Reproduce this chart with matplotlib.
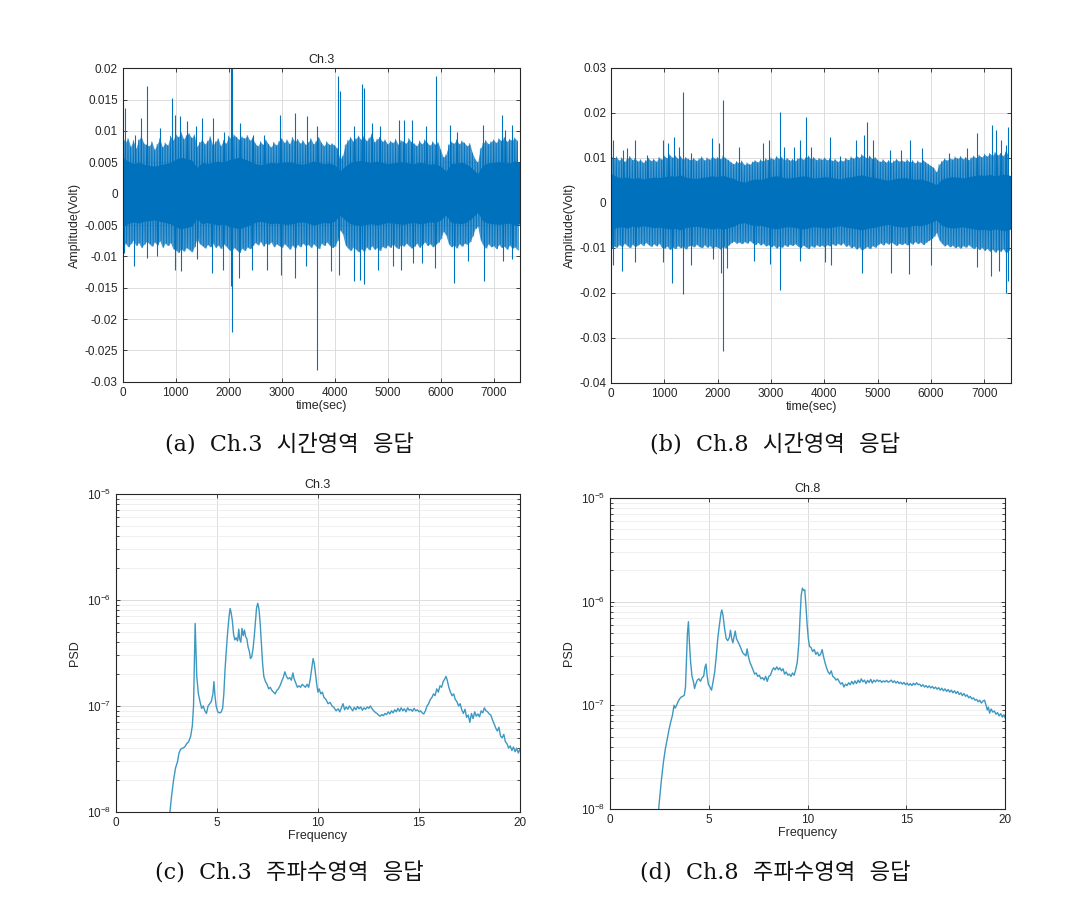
import numpy as np
import matplotlib
matplotlib.use("Agg")
import matplotlib.pyplot as plt
from matplotlib.ticker import FuncFormatter, LogLocator, NullFormatter

plt.rcParams['font.family'] = ['Liberation Sans', 'DejaVu Sans']
plt.rcParams['axes.unicode_minus'] = False

# ---------------- time-domain data ----------------
t_core = list(range(0, 7501, 100))
t_fringe = list(range(0, 7500, 50))

ch3_core_hi = [0.0058, 0.0052, 0.0048, 0.0050, 0.0047, 0.0045, 0.0044, 0.0046, 0.0048, 0.0050,
               0.0055, 0.0058, 0.0056, 0.0054, 0.0042, 0.0050, 0.0048, 0.0050, 0.0052, 0.0050,
               0.0054, 0.0056, 0.0058, 0.0055, 0.0052, 0.0048, 0.0046, 0.0048, 0.0050, 0.0049,
               0.0050, 0.0051, 0.0050, 0.0048, 0.0047, 0.0049, 0.0052, 0.0050, 0.0048, 0.0049,
               0.0046, 0.0036, 0.0044, 0.0050, 0.0052, 0.0053, 0.0051, 0.0050, 0.0052, 0.0050,
               0.0048, 0.0049, 0.0050, 0.0051, 0.0049, 0.0048, 0.0050, 0.0049, 0.0047, 0.0048,
               0.0044, 0.0036, 0.0048, 0.0049, 0.0050, 0.0047, 0.0040, 0.0032, 0.0046, 0.0049,
               0.0050, 0.0051, 0.0050, 0.0049, 0.0052, 0.0050]
ch3_core_lo = [-0.0052, -0.0048, -0.0045, -0.0047, -0.0044, -0.0043, -0.0042, -0.0044, -0.0046, -0.0048,
               -0.0053, -0.0056, -0.0054, -0.0052, -0.0040, -0.0048, -0.0046, -0.0048, -0.0050, -0.0048,
               -0.0052, -0.0054, -0.0056, -0.0053, -0.0050, -0.0046, -0.0044, -0.0046, -0.0048, -0.0047,
               -0.0048, -0.0049, -0.0048, -0.0046, -0.0045, -0.0047, -0.0050, -0.0048, -0.0046, -0.0047,
               -0.0044, -0.0034, -0.0042, -0.0048, -0.0050, -0.0051, -0.0049, -0.0048, -0.0050, -0.0048,
               -0.0046, -0.0047, -0.0048, -0.0049, -0.0047, -0.0046, -0.0048, -0.0047, -0.0045, -0.0046,
               -0.0042, -0.0034, -0.0046, -0.0047, -0.0048, -0.0045, -0.0038, -0.0030, -0.0044, -0.0047,
               -0.0048, -0.0049, -0.0048, -0.0047, -0.0050, -0.0048]
ch3_fringe_hi = [0.0090, 0.0082, 0.0088, 0.0075, 0.0085, 0.0072, 0.0086, 0.0091, 0.0080, 0.0078,
                 0.0076, 0.0083, 0.0070, 0.0079, 0.0088, 0.0074, 0.0081, 0.0077, 0.0092, 0.0085,
                 0.0095, 0.0090, 0.0098, 0.0087, 0.0093, 0.0096, 0.0089, 0.0094, 0.0075, 0.0082,
                 0.0086, 0.0079, 0.0084, 0.0091, 0.0077, 0.0083, 0.0088, 0.0076, 0.0085, 0.0080,
                 0.0092, 0.0087, 0.0094, 0.0090, 0.0086, 0.0091, 0.0088, 0.0093, 0.0085, 0.0089,
                 0.0080, 0.0076, 0.0083, 0.0078, 0.0086, 0.0079, 0.0074, 0.0082, 0.0077, 0.0084,
                 0.0088, 0.0081, 0.0086, 0.0079, 0.0090, 0.0083, 0.0087, 0.0080, 0.0085, 0.0078,
                 0.0082, 0.0088, 0.0079, 0.0084, 0.0090, 0.0081, 0.0076, 0.0083, 0.0078, 0.0080,
                 0.0077, 0.0072, 0.0055, 0.0060, 0.0078, 0.0085, 0.0090, 0.0083, 0.0088, 0.0092,
                 0.0086, 0.0091, 0.0084, 0.0089, 0.0095, 0.0082, 0.0087, 0.0090, 0.0083, 0.0086,
                 0.0079, 0.0084, 0.0081, 0.0087, 0.0078, 0.0085, 0.0083, 0.0080, 0.0088, 0.0082,
                 0.0080, 0.0076, 0.0084, 0.0079, 0.0086, 0.0081, 0.0077, 0.0083, 0.0078, 0.0082,
                 0.0070, 0.0058, 0.0062, 0.0078, 0.0083, 0.0080, 0.0086, 0.0079, 0.0084, 0.0081,
                 0.0076, 0.0080, 0.0065, 0.0055, 0.0050, 0.0072, 0.0080, 0.0085, 0.0079, 0.0083,
                 0.0086, 0.0081, 0.0088, 0.0084, 0.0090, 0.0083, 0.0087, 0.0085, 0.0089, 0.0084]
ch3_fringe_lo = [-0.0088, -0.0079, -0.0085, -0.0080, -0.0074, -0.0083, -0.0078, -0.0086, -0.0081, -0.0076,
                 -0.0080, -0.0084, -0.0077, -0.0082, -0.0075, -0.0086, -0.0079, -0.0083, -0.0078, -0.0088,
                 -0.0090, -0.0094, -0.0088, -0.0092, -0.0086, -0.0089, -0.0093, -0.0085, -0.0072, -0.0080,
                 -0.0083, -0.0087, -0.0081, -0.0085, -0.0079, -0.0086, -0.0082, -0.0088, -0.0080, -0.0084,
                 -0.0089, -0.0092, -0.0086, -0.0090, -0.0094, -0.0087, -0.0091, -0.0085, -0.0088, -0.0083,
                 -0.0078, -0.0082, -0.0076, -0.0084, -0.0079, -0.0081, -0.0077, -0.0085, -0.0080, -0.0083,
                 -0.0086, -0.0080, -0.0084, -0.0089, -0.0082, -0.0087, -0.0081, -0.0085, -0.0079, -0.0083,
                 -0.0081, -0.0086, -0.0080, -0.0084, -0.0088, -0.0079, -0.0083, -0.0077, -0.0082, -0.0086,
                 -0.0084, -0.0075, -0.0058, -0.0064, -0.0082, -0.0087, -0.0091, -0.0085, -0.0089, -0.0093,
                 -0.0088, -0.0092, -0.0085, -0.0090, -0.0083, -0.0089, -0.0086, -0.0091, -0.0084, -0.0087,
                 -0.0082, -0.0086, -0.0080, -0.0085, -0.0088, -0.0081, -0.0084, -0.0079, -0.0083, -0.0087,
                 -0.0084, -0.0079, -0.0086, -0.0081, -0.0077, -0.0083, -0.0080, -0.0085, -0.0081, -0.0078,
                 -0.0072, -0.0060, -0.0066, -0.0080, -0.0085, -0.0082, -0.0087, -0.0080, -0.0084, -0.0079,
                 -0.0081, -0.0077, -0.0068, -0.0056, -0.0052, -0.0074, -0.0082, -0.0087, -0.0080, -0.0085,
                 -0.0083, -0.0088, -0.0081, -0.0086, -0.0084, -0.0089, -0.0082, -0.0087, -0.0085, -0.0090]
ch3_spike_t = [50, 233, 346, 465, 704, 925, 987, 1082, 1220, 1384, 1503, 1711, 1918, 2038, 2069,
               2214, 2465, 2667, 2969, 3252, 3484, 3660, 4069, 4101, 4365, 4509, 4553, 4698, 4855,
               5214, 5308, 5453, 5717, 5906, 6176, 6302, 6805, 7151, 7214, 7340,
               31, 214, 465, 654, 987, 1094, 1396, 1679, 1899, 2044, 2063, 2195, 2434, 2717, 2981,
               3252, 3459, 3667, 3925, 4088, 4365, 4478, 4553, 4824, 5094, 5245, 5484, 5654, 5893,
               6258, 6522, 6818, 7170, 7340]
ch3_spike_v = [0.0137, 0.0094, 0.0121, 0.0172, 0.0105, 0.0153, 0.0126, 0.0124, 0.0116, 0.0108,
               0.0121, 0.0121, 0.0099, 0.0210, 0.0205, 0.0113, 0.0094, 0.0094, 0.0126, 0.0129,
               0.0124, 0.0108, 0.0188, 0.0164, 0.0108, 0.0175, 0.0169, 0.0113, 0.0108, 0.0118,
               0.0118, 0.0118, 0.0108, 0.0188, 0.0110, 0.0099, 0.0110, 0.0126, 0.0102, 0.0110,
               -0.0094, -0.0116, -0.0102, -0.0099, -0.0121, -0.0124, -0.0105, -0.0126, -0.0121,
               -0.0148, -0.0220, -0.0134, -0.0121, -0.0121, -0.0129, -0.0134, -0.0116, -0.0281,
               -0.0124, -0.0129, -0.0140, -0.0137, -0.0144, -0.0121, -0.0116, -0.0121, -0.0110,
               -0.0110, -0.0118, -0.0142, -0.0108, -0.0140, -0.0108, -0.0105]

ch8_core_hi = [0.0065, 0.0058, 0.0055, 0.0057, 0.0054, 0.0056, 0.0053, 0.0055, 0.0057, 0.0056,
               0.0058, 0.0060, 0.0059, 0.0062, 0.0057, 0.0055, 0.0054, 0.0056, 0.0058, 0.0060,
               0.0058, 0.0061, 0.0057, 0.0054, 0.0048, 0.0046, 0.0050, 0.0053, 0.0052, 0.0055,
               0.0058, 0.0060, 0.0057, 0.0055, 0.0056, 0.0058, 0.0060, 0.0058, 0.0055, 0.0056,
               0.0058, 0.0057, 0.0055, 0.0053, 0.0056, 0.0058, 0.0060, 0.0062, 0.0059, 0.0057,
               0.0055, 0.0052, 0.0050, 0.0053, 0.0055, 0.0056, 0.0054, 0.0052, 0.0053, 0.0050,
               0.0046, 0.0040, 0.0052, 0.0056, 0.0058, 0.0057, 0.0055, 0.0058, 0.0060, 0.0062,
               0.0061, 0.0063, 0.0060, 0.0062, 0.0064, 0.0060]
ch8_core_lo = [-0.0060, -0.0055, -0.0053, -0.0056, -0.0052, -0.0054, -0.0051, -0.0053, -0.0055, -0.0054,
               -0.0056, -0.0058, -0.0057, -0.0060, -0.0055, -0.0053, -0.0052, -0.0054, -0.0056, -0.0058,
               -0.0056, -0.0059, -0.0055, -0.0052, -0.0046, -0.0044, -0.0048, -0.0051, -0.0050, -0.0053,
               -0.0056, -0.0058, -0.0055, -0.0053, -0.0054, -0.0056, -0.0058, -0.0056, -0.0053, -0.0054,
               -0.0056, -0.0055, -0.0053, -0.0051, -0.0054, -0.0056, -0.0058, -0.0060, -0.0057, -0.0055,
               -0.0053, -0.0050, -0.0048, -0.0051, -0.0053, -0.0054, -0.0052, -0.0050, -0.0051, -0.0048,
               -0.0044, -0.0038, -0.0050, -0.0054, -0.0056, -0.0055, -0.0053, -0.0056, -0.0058, -0.0060,
               -0.0059, -0.0061, -0.0058, -0.0060, -0.0062, -0.0058]
ch8_fringe_hi = [0.0105, 0.0098, 0.0102, 0.0094, 0.0100, 0.0091, 0.0097, 0.0103, 0.0095, 0.0099,
                 0.0092, 0.0096, 0.0089, 0.0094, 0.0099, 0.0093, 0.0097, 0.0091, 0.0101, 0.0096,
                 0.0104, 0.0099, 0.0107, 0.0100, 0.0105, 0.0098, 0.0103, 0.0096, 0.0101, 0.0097,
                 0.0095, 0.0099, 0.0093, 0.0098, 0.0102, 0.0094, 0.0100, 0.0096, 0.0103, 0.0098,
                 0.0101, 0.0097, 0.0104, 0.0099, 0.0095, 0.0090, 0.0086, 0.0092, 0.0088, 0.0093,
                 0.0084, 0.0089, 0.0085, 0.0091, 0.0094, 0.0090, 0.0096, 0.0092, 0.0098, 0.0095,
                 0.0100, 0.0096, 0.0103, 0.0098, 0.0101, 0.0095, 0.0099, 0.0094, 0.0097, 0.0093,
                 0.0098, 0.0102, 0.0096, 0.0100, 0.0104, 0.0097, 0.0101, 0.0095, 0.0099, 0.0096,
                 0.0100, 0.0095, 0.0098, 0.0093, 0.0097, 0.0091, 0.0096, 0.0092, 0.0099, 0.0095,
                 0.0102, 0.0098, 0.0105, 0.0100, 0.0107, 0.0103, 0.0099, 0.0104, 0.0097, 0.0101,
                 0.0095, 0.0091, 0.0096, 0.0090, 0.0094, 0.0089, 0.0093, 0.0097, 0.0092, 0.0095,
                 0.0091, 0.0096, 0.0090, 0.0094, 0.0088, 0.0093, 0.0089, 0.0095, 0.0090, 0.0086,
                 0.0082, 0.0078, 0.0068, 0.0085, 0.0092, 0.0098, 0.0094, 0.0100, 0.0096, 0.0102,
                 0.0098, 0.0103, 0.0097, 0.0101, 0.0095, 0.0100, 0.0104, 0.0099, 0.0106, 0.0101,
                 0.0108, 0.0103, 0.0110, 0.0105, 0.0112, 0.0106, 0.0110, 0.0104, 0.0113, 0.0108]
ch8_fringe_lo = [-0.0102, -0.0096, -0.0099, -0.0093, -0.0097, -0.0090, -0.0095, -0.0100, -0.0092, -0.0097,
                 -0.0094, -0.0090, -0.0095, -0.0088, -0.0093, -0.0097, -0.0091, -0.0096, -0.0090, -0.0099,
                 -0.0101, -0.0096, -0.0104, -0.0098, -0.0102, -0.0095, -0.0100, -0.0097, -0.0103, -0.0096,
                 -0.0094, -0.0098, -0.0092, -0.0097, -0.0100, -0.0093, -0.0099, -0.0095, -0.0101, -0.0097,
                 -0.0099, -0.0103, -0.0097, -0.0101, -0.0094, -0.0089, -0.0085, -0.0090, -0.0087, -0.0091,
                 -0.0086, -0.0090, -0.0084, -0.0089, -0.0093, -0.0088, -0.0094, -0.0090, -0.0096, -0.0093,
                 -0.0098, -0.0094, -0.0101, -0.0096, -0.0099, -0.0093, -0.0097, -0.0092, -0.0095, -0.0091,
                 -0.0096, -0.0100, -0.0094, -0.0098, -0.0102, -0.0095, -0.0099, -0.0093, -0.0097, -0.0094,
                 -0.0098, -0.0093, -0.0096, -0.0091, -0.0095, -0.0090, -0.0094, -0.0089, -0.0097, -0.0093,
                 -0.0100, -0.0096, -0.0103, -0.0098, -0.0105, -0.0101, -0.0097, -0.0102, -0.0095, -0.0099,
                 -0.0093, -0.0089, -0.0094, -0.0088, -0.0092, -0.0087, -0.0091, -0.0095, -0.0090, -0.0093,
                 -0.0089, -0.0094, -0.0088, -0.0092, -0.0086, -0.0091, -0.0087, -0.0093, -0.0088, -0.0084,
                 -0.0080, -0.0075, -0.0066, -0.0083, -0.0090, -0.0096, -0.0092, -0.0098, -0.0094, -0.0100,
                 -0.0096, -0.0101, -0.0095, -0.0099, -0.0093, -0.0098, -0.0102, -0.0097, -0.0104, -0.0099,
                 -0.0106, -0.0101, -0.0108, -0.0103, -0.0110, -0.0104, -0.0108, -0.0102, -0.0111, -0.0106]
ch8_spike_t = [44, 220, 308, 453, 673, 969, 1063, 1176, 1270, 1346, 1491, 1899, 2025, 2107, 2403,
               2855, 2969, 3170, 3252, 3428, 3535, 3648, 3755, 4113, 4289, 4585, 4742, 4792, 4918,
               5233, 5440, 5610, 5830, 6333, 6679, 6868, 7138, 7214, 7308, 7403, 7447,
               44, 214, 459, 969, 1145, 1346, 1491, 1906, 2057, 2107, 2182, 2686, 2987, 3170, 3535,
               4006, 4119, 4711, 5252, 5591, 6006, 6868, 7119, 7277, 7415, 7447]
ch8_spike_v = [0.0140, 0.0118, 0.0121, 0.0140, 0.0106, 0.0140, 0.0132, 0.0147, 0.0125, 0.0245,
               0.0110, 0.0143, 0.0132, 0.0228, 0.0125, 0.0132, 0.0140, 0.0202, 0.0125, 0.0125,
               0.0140, 0.0191, 0.0125, 0.0147, 0.0103, 0.0140, 0.0151, 0.0180, 0.0140, 0.0118,
               0.0118, 0.0140, 0.0121, 0.0110, 0.0121, 0.0154, 0.0173, 0.0162, 0.0140, 0.0129,
               0.0168,
               -0.0137, -0.0151, -0.0132, -0.0132, -0.0177, -0.0202, -0.0137, -0.0125, -0.0156,
               -0.0330, -0.0145, -0.0130, -0.0136, -0.0194, -0.0130, -0.0132, -0.0137, -0.0156,
               -0.0156, -0.0158, -0.0137, -0.0143, -0.0163, -0.0152, -0.0200, -0.0174]

# ---------------- frequency-domain data ----------------
ch3_freq = [2.62, 2.67, 2.75, 2.85, 2.95, 3.05, 3.12, 3.20, 3.30, 3.40, 3.50, 3.60, 3.70, 3.78, 3.84,
            3.88, 3.92, 3.96, 4.00, 4.08, 4.16, 4.24, 4.32, 4.40, 4.48, 4.56, 4.64, 4.72, 4.80, 4.85,
            4.90, 4.96, 5.04, 5.12, 5.20, 5.28, 5.34, 5.40, 5.47, 5.53, 5.60, 5.65, 5.70, 5.76, 5.82,
            5.88, 5.95, 6.02, 6.08, 6.12, 6.18, 6.24, 6.30, 6.36, 6.42, 6.48, 6.54, 6.60, 6.66, 6.72,
            6.78, 6.84, 6.90, 6.96, 7.02, 7.08, 7.14, 7.20, 7.26, 7.32, 7.40, 7.48, 7.56, 7.64, 7.72,
            7.80, 7.88, 7.96, 8.04, 8.12, 8.20, 8.28, 8.36, 8.44, 8.52, 8.60, 8.68, 8.76, 8.82, 8.90,
            8.98, 9.06, 9.14, 9.22, 9.30, 9.38, 9.46, 9.54, 9.62, 9.70, 9.76, 9.82, 9.88, 9.94, 10.00,
            10.06, 10.14, 10.22, 10.30, 10.40, 10.50, 10.60, 10.70, 10.80, 10.90, 11.00, 11.08, 11.16,
            11.24, 11.32, 11.40, 11.48, 11.56, 11.64, 11.72, 11.80, 11.88, 11.96, 12.04, 12.12, 12.20,
            12.28, 12.36, 12.44, 12.52, 12.60, 12.68, 12.76, 12.84, 12.92, 13.00, 13.08, 13.16, 13.24,
            13.32, 13.40, 13.48, 13.56, 13.64, 13.72, 13.80, 13.88, 13.96, 14.04, 14.12, 14.20, 14.28,
            14.36, 14.44, 14.52, 14.60, 14.68, 14.76, 14.84, 14.92, 15.00, 15.08, 15.16, 15.24, 15.32,
            15.40, 15.48, 15.56, 15.64, 15.72, 15.80, 15.88, 15.96, 16.04, 16.12, 16.20, 16.28, 16.34,
            16.40, 16.48, 16.56, 16.64, 16.72, 16.80, 16.88, 16.96, 17.04, 17.12, 17.20, 17.28, 17.36,
            17.44, 17.52, 17.60, 17.68, 17.76, 17.84, 17.92, 18.00, 18.08, 18.16, 18.24, 18.32, 18.40,
            18.48, 18.56, 18.64, 18.72, 18.80, 18.88, 18.96, 19.04, 19.12, 19.20, 19.28, 19.36, 19.44,
            19.52, 19.60, 19.68, 19.76, 19.84, 19.92, 20.00]
ch3_psd = [8.0e-9, 1.0e-8, 1.4e-8, 2.0e-8, 2.6e-8, 3.0e-8, 3.6e-8, 3.9e-8, 4.0e-8, 4.1e-8, 4.4e-8,
           4.6e-8, 5.2e-8, 6.5e-8, 1.0e-7, 2.5e-7, 6.0e-7, 3.5e-7, 1.9e-7, 1.3e-7, 1.1e-7, 9.5e-8,
           1.0e-7, 9.0e-8, 8.5e-8, 1.0e-7, 1.05e-7, 1.1e-7, 1.3e-7, 1.7e-7, 1.25e-7, 1.0e-7, 8.8e-8,
           8.6e-8, 8.7e-8, 9.5e-8, 1.3e-7, 2.2e-7, 3.5e-7, 5.0e-7, 7.0e-7, 8.3e-7, 7.6e-7, 6.4e-7,
           4.8e-7, 4.2e-7, 4.4e-7, 4.1e-7, 5.3e-7, 4.3e-7, 4.0e-7, 5.4e-7, 4.6e-7, 5.2e-7, 4.5e-7,
           4.3e-7, 3.6e-7, 3.3e-7, 2.8e-7, 2.9e-7, 3.4e-7, 4.4e-7, 6.0e-7, 8.4e-7, 9.3e-7, 8.2e-7,
           6.0e-7, 3.8e-7, 2.5e-7, 1.9e-7, 1.7e-7, 1.6e-7, 1.45e-7, 1.5e-7, 1.4e-7, 1.35e-7, 1.3e-7,
           1.4e-7, 1.45e-7, 1.55e-7, 1.7e-7, 1.85e-7, 2.1e-7, 1.9e-7, 1.8e-7, 1.85e-7, 1.75e-7,
           2.05e-7, 1.8e-7, 1.65e-7, 1.5e-7, 1.55e-7, 1.5e-7, 1.6e-7, 1.55e-7, 1.5e-7, 1.6e-7, 1.5e-7,
           1.8e-7, 2.3e-7, 2.8e-7, 2.5e-7, 2.0e-7, 1.6e-7, 1.35e-7, 1.45e-7, 1.3e-7, 1.35e-7, 1.2e-7,
           1.15e-7, 1.05e-7, 1.08e-7, 1.0e-7, 9.6e-8, 9.0e-8, 9.4e-8, 8.8e-8, 9.6e-8, 1.05e-7, 9.2e-8,
           9.8e-8, 9.3e-8, 1.0e-7, 9.5e-8, 9.0e-8, 9.7e-8, 9.2e-8, 9.9e-8, 9.4e-8, 9.8e-8, 9.1e-8,
           9.6e-8, 9.3e-8, 9.8e-8, 9.5e-8, 1.0e-7, 9.4e-8, 9.0e-8, 8.7e-8, 8.5e-8, 8.2e-8, 8.0e-8,
           8.3e-8, 8.1e-8, 8.5e-8, 8.3e-8, 8.8e-8, 8.4e-8, 9.0e-8, 8.6e-8, 9.2e-8, 8.8e-8, 9.5e-8,
           8.9e-8, 9.6e-8, 9.0e-8, 9.4e-8, 8.8e-8, 9.6e-8, 9.1e-8, 9.3e-8, 8.9e-8, 9.5e-8, 9.0e-8,
           9.2e-8, 8.8e-8, 9.0e-8, 8.6e-8, 8.4e-8, 9.0e-8, 1.0e-7, 1.05e-7, 1.15e-7, 1.2e-7, 1.3e-7,
           1.25e-7, 1.45e-7, 1.35e-7, 1.55e-7, 1.5e-7, 1.7e-7, 1.8e-7, 1.9e-7, 1.75e-7, 1.5e-7,
           1.35e-7, 1.25e-7, 1.3e-7, 1.15e-7, 1.1e-7, 1.0e-7, 1.05e-7, 9.2e-8, 8.5e-8, 9.3e-8, 7.8e-8,
           8.2e-8, 7.0e-8, 8.5e-8, 7.6e-8, 8.8e-8, 8.0e-8, 8.4e-8, 7.9e-8, 9.0e-8, 8.6e-8, 9.6e-8,
           9.0e-8, 8.8e-8, 8.4e-8, 8.2e-8, 7.4e-8, 6.8e-8, 6.2e-8, 5.8e-8, 6.3e-8, 5.2e-8, 5.0e-8,
           5.4e-8, 4.6e-8, 4.4e-8, 4.0e-8, 4.2e-8, 3.8e-8, 4.1e-8, 3.7e-8, 4.0e-8, 3.6e-8, 3.9e-8]

ch8_freq = [2.42, 2.50, 2.60, 2.70, 2.80, 2.90, 3.00, 3.08, 3.16, 3.24, 3.30, 3.37, 3.44, 3.52, 3.60,
            3.68, 3.76, 3.82, 3.87, 3.92, 3.97, 4.02, 4.08, 4.15, 4.22, 4.28, 4.34, 4.42, 4.50, 4.58,
            4.66, 4.74, 4.80, 4.86, 4.92, 4.98, 5.06, 5.14, 5.22, 5.30, 5.38, 5.46, 5.54, 5.62, 5.66,
            5.72, 5.80, 5.88, 5.96, 6.04, 6.10, 6.16, 6.22, 6.28, 6.34, 6.40, 6.48, 6.56, 6.64, 6.72,
            6.80, 6.88, 6.94, 7.00, 7.08, 7.16, 7.24, 7.32, 7.40, 7.48, 7.56, 7.64, 7.72, 7.80, 7.88,
            7.96, 8.04, 8.12, 8.20, 8.28, 8.36, 8.44, 8.52, 8.60, 8.68, 8.76, 8.84, 8.92, 9.00, 9.08,
            9.16, 9.24, 9.32, 9.40, 9.48, 9.56, 9.62, 9.68, 9.74, 9.80, 9.86, 9.92, 9.98, 10.04, 10.10,
            10.18, 10.26, 10.34, 10.42, 10.50, 10.58, 10.66, 10.74, 10.80, 10.88, 10.96, 11.04, 11.12,
            11.20, 11.28, 11.36, 11.44, 11.52, 11.60, 11.68, 11.76, 11.84, 11.92, 12.00, 12.08, 12.16,
            12.24, 12.32, 12.40, 12.48, 12.56, 12.64, 12.72, 12.80, 12.88, 12.96, 13.04, 13.12, 13.20,
            13.28, 13.36, 13.44, 13.52, 13.60, 13.68, 13.76, 13.84, 13.92, 14.00, 14.08, 14.16, 14.24,
            14.32, 14.40, 14.48, 14.56, 14.64, 14.72, 14.80, 14.88, 14.96, 15.04, 15.12, 15.20, 15.28,
            15.36, 15.44, 15.52, 15.60, 15.68, 15.76, 15.84, 15.92, 16.00, 16.08, 16.16, 16.24, 16.32,
            16.40, 16.48, 16.56, 16.64, 16.72, 16.80, 16.88, 16.96, 17.04, 17.12, 17.20, 17.28, 17.36,
            17.44, 17.52, 17.60, 17.68, 17.76, 17.84, 17.92, 18.00, 18.08, 18.16, 18.24, 18.32, 18.40,
            18.48, 18.56, 18.64, 18.72, 18.80, 18.88, 18.96, 19.04, 19.10, 19.16, 19.22, 19.30, 19.38,
            19.46, 19.54, 19.62, 19.70, 19.78, 19.86, 19.94, 20.00]
ch8_psd = [8.0e-9, 1.2e-8, 1.9e-8, 2.8e-8, 3.8e-8, 4.8e-8, 6.0e-8, 7.0e-8, 8.0e-8, 1.0e-7, 9.4e-8,
           1.0e-7, 1.08e-7, 1.15e-7, 1.2e-7, 1.22e-7, 1.25e-7, 1.5e-7, 2.8e-7, 5.0e-7, 6.4e-7, 4.0e-7,
           2.6e-7, 1.9e-7, 1.7e-7, 1.45e-7, 1.6e-7, 1.75e-7, 1.8e-7, 1.7e-7, 1.85e-7, 1.9e-7, 2.3e-7,
           2.5e-7, 1.9e-7, 1.6e-7, 1.5e-7, 1.4e-7, 1.7e-7, 2.1e-7, 3.0e-7, 4.5e-7, 6.0e-7, 7.8e-7,
           8.3e-7, 7.4e-7, 5.5e-7, 4.4e-7, 4.2e-7, 4.5e-7, 5.3e-7, 4.4e-7, 4.0e-7, 4.6e-7, 5.2e-7,
           4.4e-7, 4.1e-7, 3.8e-7, 3.5e-7, 3.2e-7, 3.1e-7, 3.0e-7, 3.5e-7, 3.0e-7, 2.6e-7, 2.4e-7,
           2.2e-7, 2.0e-7, 2.05e-7, 1.9e-7, 1.95e-7, 1.8e-7, 1.85e-7, 1.75e-7, 1.9e-7, 1.7e-7, 1.9e-7,
           1.95e-7, 2.15e-7, 2.3e-7, 2.2e-7, 2.35e-7, 2.2e-7, 2.3e-7, 2.15e-7, 2.25e-7, 2.0e-7, 2.1e-7,
           1.95e-7, 2.0e-7, 1.9e-7, 2.05e-7, 1.95e-7, 2.2e-7, 2.6e-7, 4.0e-7, 7.0e-7, 1.15e-6, 1.35e-6,
           1.28e-6, 1.3e-6, 9.0e-7, 6.0e-7, 4.4e-7, 3.7e-7, 3.6e-7, 3.3e-7, 3.45e-7, 3.1e-7, 3.25e-7,
           3.0e-7, 3.1e-7, 3.45e-7, 3.0e-7, 2.6e-7, 2.3e-7, 2.1e-7, 2.0e-7, 2.15e-7, 1.9e-7, 1.85e-7,
           1.75e-7, 1.8e-7, 1.7e-7, 1.6e-7, 1.65e-7, 1.5e-7, 1.6e-7, 1.55e-7, 1.65e-7, 1.58e-7, 1.7e-7,
           1.6e-7, 1.72e-7, 1.62e-7, 1.75e-7, 1.65e-7, 1.8e-7, 1.68e-7, 1.75e-7, 1.62e-7, 1.74e-7,
           1.66e-7, 1.78e-7, 1.64e-7, 1.75e-7, 1.68e-7, 1.76e-7, 1.7e-7, 1.74e-7, 1.66e-7, 1.72e-7,
           1.68e-7, 1.74e-7, 1.67e-7, 1.7e-7, 1.75e-7, 1.66e-7, 1.72e-7, 1.64e-7, 1.7e-7, 1.62e-7,
           1.67e-7, 1.6e-7, 1.66e-7, 1.58e-7, 1.64e-7, 1.56e-7, 1.62e-7, 1.55e-7, 1.63e-7, 1.57e-7,
           1.65e-7, 1.58e-7, 1.6e-7, 1.52e-7, 1.58e-7, 1.5e-7, 1.55e-7, 1.48e-7, 1.54e-7, 1.47e-7,
           1.52e-7, 1.45e-7, 1.5e-7, 1.43e-7, 1.48e-7, 1.4e-7, 1.46e-7, 1.38e-7, 1.44e-7, 1.36e-7,
           1.42e-7, 1.34e-7, 1.4e-7, 1.32e-7, 1.38e-7, 1.3e-7, 1.36e-7, 1.27e-7, 1.32e-7, 1.24e-7,
           1.3e-7, 1.22e-7, 1.26e-7, 1.18e-7, 1.22e-7, 1.15e-7, 1.18e-7, 1.12e-7, 1.14e-7, 1.08e-7,
           1.12e-7, 1.05e-7, 1.1e-7, 1.12e-7, 1.0e-7, 9.0e-8, 9.6e-8, 8.4e-8, 9.2e-8, 8.6e-8, 8.8e-8,
           8.2e-8, 8.5e-8, 7.9e-8, 8.3e-8, 7.7e-8, 8.1e-8, 7.6e-8]

captions = ["(a)  Ch.3  시간영역  응답", "(b)  Ch.8  시간영역  응답",
            "(c)  Ch.3  주파수영역  응답", "(d)  Ch.8  주파수영역  응답"]

# ---------------- styling ----------------
TS_COLOR = '#0072BD'
PSD_COLOR = '#3d98c2'
GRID_COLOR = '#dcdcdc'
TEXT_COLOR = '#262626'
TICK_FS = 8.5
LABEL_FS = 9


def style_axes(ax):
    for s in ax.spines.values():
        s.set_color('#262626')
        s.set_linewidth(0.8)
    ax.tick_params(direction='in', top=True, right=True, labelsize=TICK_FS,
                   colors=TEXT_COLOR, length=3, width=0.6)
    ax.tick_params(which='minor', direction='in', top=False, right=True, length=2, width=0.5)
    ax.grid(True, which='major', color=GRID_COLOR, linewidth=0.7)
    ax.set_axisbelow(True)


fig = plt.figure(figsize=(10.65, 9.06), dpi=100)

fmt_g = FuncFormatter(lambda v, p: ('%g' % v) if abs(v) > 1e-12 else '0')

ax_a = fig.add_axes([0.1152, 0.5787, 0.3731, 0.3459])
ax_b = fig.add_axes([0.5737, 0.5773, 0.3756, 0.3480])
ax_c = fig.add_axes([0.1089, 0.1038, 0.3793, 0.3510])
ax_d = fig.add_axes([0.5728, 0.1071, 0.3709, 0.3433])

for ax, chi, clo, fhi, flo, st, sv, ylim, yt, title in [
        (ax_a, ch3_core_hi, ch3_core_lo, ch3_fringe_hi, ch3_fringe_lo, ch3_spike_t, ch3_spike_v,
         (-0.03, 0.02), np.arange(-0.03, 0.0201, 0.005), 'Ch.3'),
        (ax_b, ch8_core_hi, ch8_core_lo, ch8_fringe_hi, ch8_fringe_lo, ch8_spike_t, ch8_spike_v,
         (-0.04, 0.03), np.arange(-0.04, 0.0301, 0.01), None)]:
    # outer (fringe) envelope: dense band with jagged edges
    ax.fill_between(t_fringe, flo, fhi, color=TS_COLOR, alpha=0.72, linewidth=0)
    # zig-zag trace through the read upper / lower excursions
    zx = np.empty(2 * len(t_fringe))
    zy = np.empty(2 * len(t_fringe))
    zx[0::2] = t_fringe
    zx[1::2] = np.asarray(t_fringe) + 25
    zy[0::2] = fhi
    zy[1::2] = flo
    ax.plot(zx, zy, color=TS_COLOR, linewidth=0.5)
    # dense core
    ax.fill_between(t_core, clo, chi, color=TS_COLOR, linewidth=0.0)
    ax.vlines(st, 0, sv, color=TS_COLOR, linewidth=0.8)
    ax.set_xlim(0, 7500)
    ax.set_ylim(*ylim)
    ax.set_xticks(range(0, 7001, 1000))
    ax.set_yticks(yt)
    ax.yaxis.set_major_formatter(fmt_g)
    style_axes(ax)
    ax.set_xlabel('time(sec)', fontsize=LABEL_FS, color=TEXT_COLOR, labelpad=1)
    ax.set_ylabel('Amplitude(Volt)', fontsize=LABEL_FS, color=TEXT_COLOR, labelpad=2)
    if title:
        ax.set_title(title, fontsize=LABEL_FS, color=TEXT_COLOR, pad=4)

for ax, fr, ps, title in [(ax_c, ch3_freq, ch3_psd, 'Ch.3'), (ax_d, ch8_freq, ch8_psd, 'Ch.8')]:
    ax.semilogy(fr, ps, color=PSD_COLOR, linewidth=1.0)
    ax.set_xlim(0, 20)
    ax.set_ylim(1e-8, 1e-5)
    ax.set_xticks([0, 5, 10, 15, 20])
    ax.yaxis.set_major_locator(LogLocator(base=10, numticks=10))
    ax.yaxis.set_minor_locator(LogLocator(base=10, subs=np.arange(2, 10), numticks=10))
    ax.yaxis.set_minor_formatter(NullFormatter())
    style_axes(ax)
    ax.grid(True, which='minor', axis='y', color='#ececec', linewidth=0.6)
    ax.set_xlabel('Frequency', fontsize=LABEL_FS, color=TEXT_COLOR, labelpad=1)
    ax.set_ylabel('PSD', fontsize=LABEL_FS, color=TEXT_COLOR, labelpad=4)
    ax.set_title(title, fontsize=LABEL_FS, color=TEXT_COLOR, pad=4)

cap_font = dict(family=['DejaVu Serif', 'Noto Sans CJK KR'], fontsize=16, color='#111111',
                ha='center', va='center')
fig.text(0.272, 0.5088, captions[0], **cap_font)
fig.text(0.7277, 0.5088, captions[1], **cap_font)
fig.text(0.272, 0.0364, captions[2], **cap_font)
fig.text(0.7277, 0.0364, captions[3], **cap_font)

fig.savefig('out.png', dpi=100, facecolor='white')
